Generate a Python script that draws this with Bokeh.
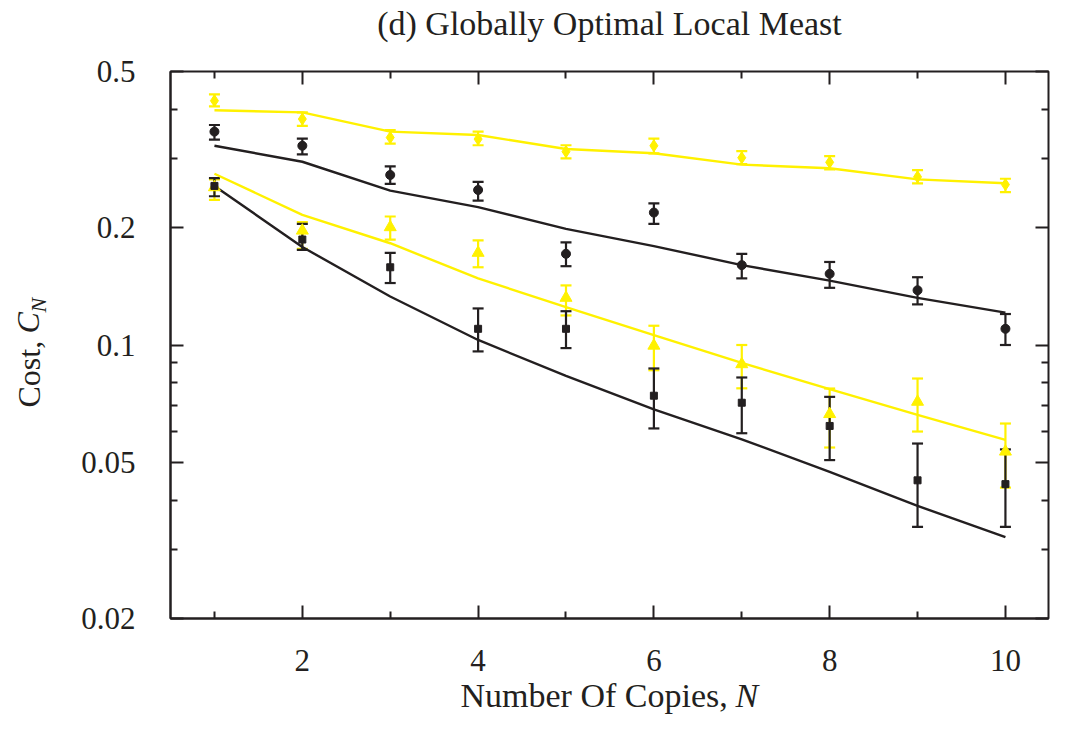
import math
from bokeh.plotting import figure
from bokeh.models import (ColumnDataSource, Whisker, TeeHead, FixedTicker, LinearAxis,
                          LogAxis, Title, Range1d, CustomJSTickFormatter)
from bokeh.embed import file_html
from bokeh.resources import INLINE

# ---------------- data ----------------
N = [1, 2, 3, 4, 5, 6, 7, 8, 9, 10]

diamond_y = [0.421, 0.378, 0.339, 0.336, 0.312, 0.323, 0.301, 0.293, 0.269, 0.257]
diamond_lo = [0.407, 0.363, 0.327, 0.324, 0.300, 0.309, 0.290, 0.281, 0.259, 0.246]
diamond_hi = [0.437, 0.393, 0.354, 0.351, 0.324, 0.337, 0.313, 0.304, 0.280, 0.266]
diamond_model = [0.398, 0.393, 0.351, 0.344, 0.317, 0.309, 0.289, 0.283, 0.265, 0.259]

circle_y = [0.351, 0.323, 0.272, 0.249, 0.171, 0.218, 0.160, 0.152, 0.138, 0.110]
circle_lo = [0.335, 0.307, 0.258, 0.234, 0.159, 0.204, 0.148, 0.140, 0.127, 0.100]
circle_hi = [0.365, 0.337, 0.286, 0.261, 0.183, 0.230, 0.171, 0.163, 0.149, 0.120]
circle_model = [0.323, 0.294, 0.248, 0.225, 0.198, 0.179, 0.160, 0.146, 0.132, 0.121]

triangle_y = [0.253, 0.196, 0.200, 0.172, 0.132, 0.0996, 0.0893, 0.0666, 0.0716, 0.0534]
triangle_lo = [0.235, 0.176, 0.186, 0.158, 0.119, 0.0862, 0.0775, 0.0547, 0.0601, 0.0432]
triangle_hi = [0.265, 0.206, 0.213, 0.185, 0.142, 0.112, 0.100, 0.0774, 0.0821, 0.0630]
triangle_model = [0.274, 0.215, 0.182, 0.148, 0.125, 0.106, 0.090, 0.0771, 0.0663, 0.0572]

square_y = [0.255, 0.186, 0.158, 0.110, 0.110, 0.0742, 0.0712, 0.0621, 0.0451, 0.0441]
square_lo = [0.240, 0.175, 0.144, 0.0963, 0.0982, 0.0612, 0.0595, 0.0508, 0.0343, 0.0343]
square_hi = [0.267, 0.204, 0.172, 0.124, 0.122, 0.0871, 0.0826, 0.0737, 0.0560, 0.0541]
square_model = [0.255, 0.178, 0.133, 0.103, 0.0834, 0.0685, 0.0574, 0.0474, 0.0388, 0.0323]

x_major = [2, 4, 6, 8, 10]
x_minor = [1, 3, 5, 7, 9]
y_major = [0.02, 0.05, 0.1, 0.2, 0.5]
y_minor = [0.03, 0.04, 0.06, 0.07, 0.08, 0.09, 0.3, 0.4]

title_text = "(d) Globally Optimal Local Meast"
xlabel_text = "Number Of Copies,"
xlabel_var = "N"
ylabel_text = "Cost,"
ylabel_var = "C"
ylabel_sub = "N"

# ---------------- style ----------------
YEL = "#FFF100"
BLK = "#231F20"
FONT = "Liberation Serif"

p = figure(width=1052, height=717, y_axis_type="log", title=None,
           x_range=Range1d(0.5, 10.49), y_range=Range1d(0.02, 0.5),
           output_backend="svg", toolbar_location=None,
           min_border_left=170, min_border_right=4,
           min_border_top=71, min_border_bottom=99)
p.grid.visible = False
p.outline_line_color = BLK
p.outline_line_width = 2
p.background_fill_color = "white"
p.border_fill_color = "white"

blank_fmt = CustomJSTickFormatter(code="return '';")


def style_axis(ax, ticker, fmt=None, labels=True):
    ax.ticker = ticker
    if fmt is not None:
        ax.formatter = fmt
    ax.axis_line_color = BLK
    ax.axis_line_width = 2
    ax.major_tick_line_color = BLK
    ax.major_tick_line_width = 2
    ax.minor_tick_line_color = BLK
    ax.minor_tick_line_width = 2
    ax.major_tick_in = 13
    ax.major_tick_out = 0
    ax.minor_tick_in = 7
    ax.minor_tick_out = 0
    ax.major_label_text_font = FONT
    ax.major_label_text_font_size = "31px"
    ax.major_label_text_color = BLK
    if not labels:
        ax.formatter = blank_fmt
        ax.major_label_standoff = 0
        ax.major_label_text_font_size = "1px"
        ax.major_label_text_alpha = 0
        ax.axis_line_color = None


def spacer_axis(ax, ticker, size):
    # invisible axis, only used to reserve space in a side panel
    ax.ticker = ticker
    ax.formatter = blank_fmt
    ax.axis_line_color = None
    ax.major_tick_line_color = None
    ax.minor_tick_line_color = None
    ax.major_tick_in = 0
    ax.major_tick_out = size
    ax.minor_tick_in = 0
    ax.minor_tick_out = 0
    ax.major_label_standoff = 0
    ax.major_label_text_font_size = "1px"
    ax.major_label_text_alpha = 0


style_axis(p.xaxis[0], FixedTicker(ticks=x_major, minor_ticks=x_minor))
p.xaxis[0].major_label_standoff = 31
style_axis(p.yaxis[0], FixedTicker(ticks=y_major, minor_ticks=y_minor),
           CustomJSTickFormatter(code="return tick.toString();"))
p.yaxis[0].major_label_standoff = 35

top_ax = LinearAxis()
style_axis(top_ax, FixedTicker(ticks=x_major, minor_ticks=x_minor), labels=False)
p.add_layout(top_ax, "above")
right_ax = LogAxis()
style_axis(right_ax, FixedTicker(ticks=y_major, minor_ticks=y_minor), labels=False)
p.add_layout(right_ax, "right")

# ---------------- series ----------------
series = [
    (diamond_y, diamond_lo, diamond_hi, diamond_model, YEL, "diamond", 12),
    (circle_y, circle_lo, circle_hi, circle_model, BLK, "circle", 9),
    (triangle_y, triangle_lo, triangle_hi, triangle_model, YEL, "triangle", 12),
    (square_y, square_lo, square_hi, square_model, BLK, "square", 7),
]

for y, lo, hi, model, col, mk, sz in series:
    p.line(N, model, line_color=col, line_width=2.4)

for y, lo, hi, model, col, mk, sz in series:
    src = ColumnDataSource(dict(x=N, y=y, lo=lo, hi=hi))
    w = Whisker(base="x", upper="hi", lower="lo", source=src,
                line_color=col, line_width=2.2,
                upper_head=TeeHead(size=11, line_color=col, line_width=2.2),
                lower_head=TeeHead(size=11, line_color=col, line_width=2.2))
    p.add_layout(w)
    p.scatter("x", "y", source=src, marker=mk, size=sz,
              fill_color=col, line_color=col, line_width=1)

# ---------------- texts (side-panel titles) ----------------
H34 = 37.6   # estimated text box heights
H32 = 35.4
H22 = 24.4

# title
sp_top = LinearAxis()
spacer_axis(sp_top, FixedTicker(ticks=x_major), 30)
p.add_layout(sp_top, "above")
p.add_layout(Title(text=title_text, align="center", vertical_align="bottom",
                   standoff=0, text_font=FONT, text_font_size="34px",
                   text_font_style="normal", text_color=BLK), "above")

# x label
sp_bot = LinearAxis()
spacer_axis(sp_bot, FixedTicker(ticks=x_major), 22)
p.add_layout(sp_bot, "below")
p.add_layout(Title(text=xlabel_text, align="left", vertical_align="middle",
                   offset=290, standoff=-(2 + H34), text_font=FONT,
                   text_font_size="34px", text_font_style="normal",
                   text_color=BLK), "below")
p.add_layout(Title(text=xlabel_var, align="left", vertical_align="middle",
                   offset=565, standoff=-(2 + H34), text_font=FONT,
                   text_font_size="34px", text_font_style="italic",
                   text_color=BLK), "below")

# y label
sp_left = LogAxis()
spacer_axis(sp_left, FixedTicker(ticks=y_major), 32)
p.add_layout(sp_left, "left")
p.add_layout(Title(text=ylabel_sub, align="left", vertical_align="middle",
                   offset=306, standoff=16 - 2 - H22, text_font=FONT,
                   text_font_size="22px", text_font_style="italic",
                   text_color=BLK), "left")
p.add_layout(Title(text=ylabel_text, align="left", vertical_align="middle",
                   offset=211, standoff=-(2 + H32), text_font=FONT,
                   text_font_size="32px", text_font_style="normal",
                   text_color=BLK), "left")
p.add_layout(Title(text=ylabel_var, align="left", vertical_align="middle",
                   offset=285, standoff=-(2 + H32), text_font=FONT,
                   text_font_size="32px", text_font_style="italic",
                   text_color=BLK), "left")

open("out.html", "w").write(file_html(p, INLINE))
